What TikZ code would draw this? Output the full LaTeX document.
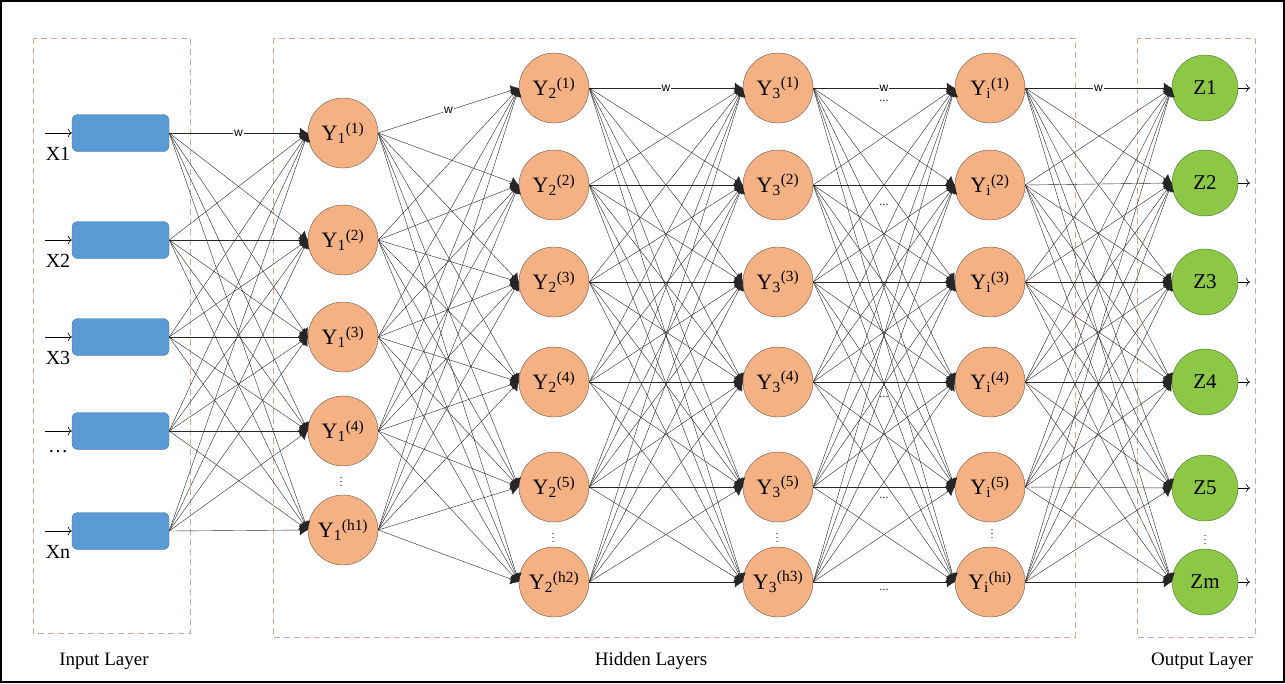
\documentclass[tikz,border=0pt]{standalone}
\usepackage{fontspec}
\setmainfont{Liberation Serif}
\newfontfamily\wfont{Liberation Sans}
\usetikzlibrary{arrows.meta,positioning}
\definecolor{nodeorange}{RGB}{244,177,131}
\definecolor{orangeline}{RGB}{110,85,70}
\definecolor{nodeblue}{RGB}{91,155,213}
\definecolor{blueline}{RGB}{65,113,156}
\definecolor{nodegreen}{RGB}{140,200,70}
\definecolor{greenline}{RGB}{80,110,50}
\definecolor{layerdash}{RGB}{215,165,155}
\tikzstyle{inbox} = [
	draw=blueline,
	fill=nodeblue,
	rounded corners=6pt,
	minimum width=97pt,
	minimum height=37pt
]
\tikzstyle{hidnode} = [
	circle,
	draw=orangeline,
	fill=nodeorange,
	minimum size=70pt,
	inner sep=0pt,
	font=\fontsize{22}{26}\selectfont
]
\tikzstyle{outnode} = [
	circle,
	draw=greenline,
	fill=nodegreen,
	minimum size=66pt,
	inner sep=0pt,
	font=\fontsize{21}{25}\selectfont
]
\tikzstyle{layer} = [draw=layerdash, dash pattern=on 6pt off 4pt, line width=0.8pt]
\tikzstyle{conn} = [-{Latex[length=8pt,width=11pt]}, line width=0.4pt, draw=black!85]
\tikzstyle{wlab} = [fill=white, inner sep=1pt, font=\wfont\fontsize{12}{12}\selectfont]
\tikzstyle{dotlab} = [inner sep=0pt, font=\wfont\fontsize{11}{11}\selectfont]
\tikzstyle{vdot} = [inner sep=0pt, font=\fontsize{10}{10}\selectfont]
\newcommand{\ylab}[2]{Y\textsubscript{#1}\textsuperscript{(#2)}}

\begin{document}
\begin{tikzpicture}[x=1pt, y=-1pt]
	\useasboundingbox (0,0) rectangle (1285,683);
	\draw[line width=2pt] (1,1) rectangle (1284,682);

	% layer frames
	\draw[layer] (33,38) rectangle (190,633);
	\draw[layer] (273,38) rectangle (1075,637);
	\draw[layer] (1137,38) rectangle (1255,637);
	\node[font=\fontsize{19}{22}\selectfont] (inlab) at (104,661) {Input Layer};
	\node[font=\fontsize{19}{22}\selectfont] (hidlab) at (651,661) {Hidden Layers};
	\node[font=\fontsize{19}{22}\selectfont] (outlab) at (1202,661) {Output Layer};

	% input layer
	\foreach \r/\y/\lab in {1/133/X1, 2/240/X2, 3/337/X3, 4/431/{\ldots}, 5/531/Xn} {
		\node[inbox] (I\r) at (120.5,\y) {};
		\coordinate (S\r) at (45,\y);
		\draw[-{To[length=4pt]}, line width=0.6pt] (S\r) -- (I\r.west);
		\node[font=\fontsize{20}{24}\selectfont] (L\r) at (58,\y+21) {\lab};
	}

	% hidden layers
	\foreach \r/\y/\s in {1/133/1, 2/240/2, 3/337/3, 4/431/4, 5/530/h1}
		\node[hidnode] (A\r) at (343,\y) {\ylab{1}{\s}};
	\foreach \r/\y/\s in {1/88/1, 2/185/2, 3/282/3, 4/382/4, 5/487/5, 6/582/h2}
		\node[hidnode] (B\r) at (554,\y) {\ylab{2}{\s}};
	\foreach \r/\y/\s in {1/88/1, 2/185/2, 3/282/3, 4/382/4, 5/487/5, 6/582/h3}
		\node[hidnode] (C\r) at (778,\y) {\ylab{3}{\s}};
	\foreach \r/\y/\s in {1/88/1, 2/185/2, 3/282/3, 4/382/4, 5/487/5, 6/582/hi}
		\node[hidnode] (D\r) at (990,\y) {\ylab{i}{\s}};

	% output layer
	\foreach \r/\y/\lab in {1/88/Z1, 2/183/Z2, 3/282/Z3, 4/382/Z4, 5/488/Z5, 6/582/Zm} {
		\node[outnode] (Z\r) at (1205,\y) {\lab};
		\coordinate (E\r) at (1250,\y);
		\draw[-{To[length=4pt]}, line width=0.6pt] (Z\r.east) -- (E\r);
	}

	\node[vdot] (dA) at (341,479) {$\vdots$};
	\node[vdot] (dB) at (553,535) {$\vdots$};
	\node[vdot] (dC) at (777,535) {$\vdots$};
	\node[vdot] (dD) at (992,531) {$\vdots$};
	\node[vdot, font=\boldmath\fontsize{10}{10}\selectfont] (dZ) at (1205,537) {$\vdots$};

	% connections
	\foreach \i in {1,...,5}
		\foreach \j in {1,...,5}
			\draw[conn] (I\i.east) -- (A\j.west);
	\foreach \i in {1,...,5}
		\foreach \j in {1,...,6}
			\draw[conn] (A\i.east) -- (B\j.west);
	\foreach \i in {1,...,6}
		\foreach \j in {1,...,6} {
			\draw[conn] (B\i.east) -- (C\j.west);
			\draw[conn] (C\i.east) -- (D\j.west);
			\draw[conn] (D\i.east) -- (Z\j.west);
		}

	% weights
	\path (I1.east) -- (A1.west) node[wlab, midway] {w};
	\path (A1.east) -- (B1.west) node[wlab, midway] {w};
	\path (B1.east) -- (C1.west) node[wlab, midway] {w};
	\path (C1.east) -- (D1.west) node[wlab, midway] {w};
	\path (D1.east) -- (Z1.west) node[wlab, midway] {w};
	\foreach \r/\dy in {1/13, 2/20, 3/1, 4/15, 5/11, 6/8}
		\path (C\r.east) -- (D\r.west) node[dotlab, midway, yshift=-\dy pt] {...};
\end{tikzpicture}
\end{document}
